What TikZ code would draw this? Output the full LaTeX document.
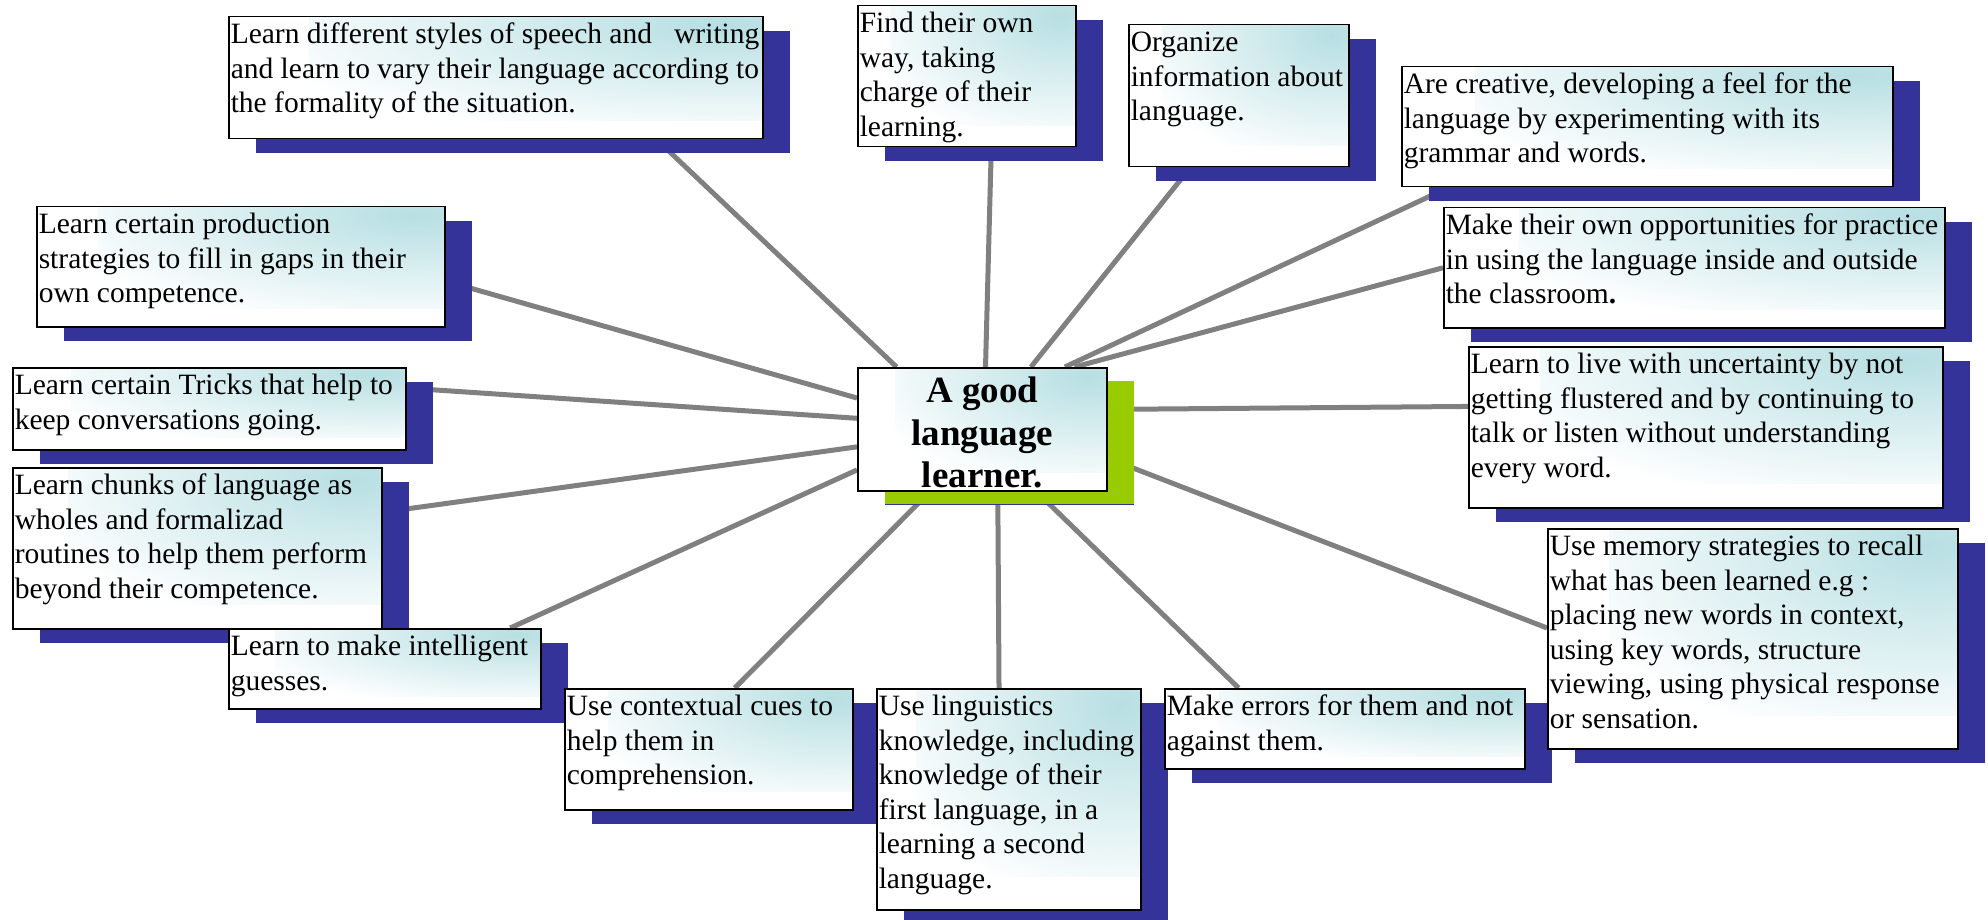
\documentclass[tikz,border=0pt]{standalone}
\usepackage{fontspec}
\setmainfont{Liberation Serif}
\usetikzlibrary{shadows, calc}

\definecolor{navyshade}{RGB}{51,51,153}
\definecolor{hubgreen}{RGB}{153,204,0}
\definecolor{glowteal}{RGB}{183,223,227}
\definecolor{spokegray}{RGB}{128,128,128}

\pgfdeclarelayer{background}
\pgfsetlayers{background,main}

\newcommand{\boxtext}[3]{\parbox[c][#2pt][t]{#1pt}{\begin{tabular}[t]{@{}l@{}}\rule{0pt}{27pt}#3\end{tabular}}}

\tikzset{
  idea/.style={draw=black, line width=1.5pt, fill=white, inner xsep=2pt, inner ysep=0pt, anchor=north west,
    font=\fontsize{29.5}{34.5}\selectfont,
    path picture={\shade[inner color=glowteal, outer color=white] ($(path picture bounding box.north east)!0.85!(path picture bounding box.south west)$) rectangle ($(path picture bounding box.north east)!-0.85!(path picture bounding box.south west)$);},
    drop shadow={shadow xshift=27pt, shadow yshift=-14pt, opacity=1, fill=navyshade}},
  hubbox/.style={idea, font=\fontsize{37}{42.5}\selectfont\bfseries,
    drop shadow={shadow xshift=27pt, shadow yshift=-13pt, opacity=1, fill=hubgreen}},
  spoke/.style={draw=spokegray, line width=5pt}
}

\begin{document}
\begin{tikzpicture}[x=1pt, y=-1pt]

        \useasboundingbox (0,0) rectangle (1988,920);
        %\draw[help lines, step=100] (0,0) grid (1988,920);

        \node[idea] (production) at (36,206) {\boxtext{404}{120}{Learn certain production\\ strategies to fill in gaps in their\\ own competence.}};
        \node[idea] (tricks) at (12,367) {\boxtext{389}{82}{Learn certain Tricks that help to\\ keep conversations going.}};
        \node[idea] (chunks) at (12,467) {\boxtext{365}{161}{Learn chunks of language as\\ wholes and formalizad\\ routines to help them perform\\ beyond their competence.}};
        \node[idea] (guesses) at (228,628) {\boxtext{308}{80}{Learn to make intelligent\\ guesses.}};
        \node[idea] (cues) at (564,688) {\boxtext{284}{121}{Use contextual cues to\\ help them in\\ comprehension.}};
        \node[idea] (linguistic) at (876,688) {\boxtext{260}{221}{Use linguistics\\ knowledge, including\\ knowledge of their\\ first language, in a\\ learning a second\\ language.}};
        \node[idea] (errors) at (1164,688) {\boxtext{356}{80}{Make errors for them and not\\ against them.}};
        \node[idea] (memory) at (1547,528) {\boxtext{406}{220}{Use memory strategies to recall\\ what has been learned e.g :\\ placing new words in context,\\ using key words, structure\\ viewing, using physical response\\ or sensation.}};
        \node[idea] (uncertain) at (1468,346) {\boxtext{470}{161}{Learn to live with uncertainty by not\\ getting flustered and by continuing to\\ talk or listen without understanding\\ every word.}};
        \node[idea] (practice) at (1443,207) {\boxtext{497}{120}{Make their own opportunities for practice\\ in using the language inside and outside\\ the classroom\textbf{.}}};
        \node[idea] (creative) at (1401,66) {\boxtext{487}{120}{Are creative, developing a feel for the\\ language by experimenting with its\\ grammar and words.}};
        \node[idea] (organize) at (1128,24) {\boxtext{216}{142}{Organize\\ information about\\ language.}};
        \node[idea] (ownway) at (857,5) {\boxtext{214}{141}{Find their own\\ way, taking\\ charge of their\\ learning.}};
        \node[idea] (styles) at (228,16) {\boxtext{530}{122}{Learn different styles of speech and\ \ \ writing\\ and learn to vary their language according to\\ the formality of the situation.}};

        \node[hubbox] (hub) at (857,367) {\parbox[c][123pt][t]{245pt}{\centering\rule{0pt}{35pt}A good\\ language\\ learner.}};

        \begin{pgfonlayer}{background}
          \foreach \leaf/\inner/\outer in {styles/144.6/339.4, ownway/87.7/289.1, organize/52.9/236.8,
              creative/37.0/197.0, practice/34.2/180.5, uncertain/9.8/175.3, memory/347.8/177.2,
              errors/311.5/159.3, linguistic/284.1/95.7, cues/230.6/67.5, guesses/198.4/18.2,
              chunks/188.5/11.3, tricks/175.2/6.4, production/166.9/356.3}
            \draw[spoke] (hub.\inner) -- (\leaf.\outer);
        \end{pgfonlayer}
      \end{tikzpicture}
\end{document}
